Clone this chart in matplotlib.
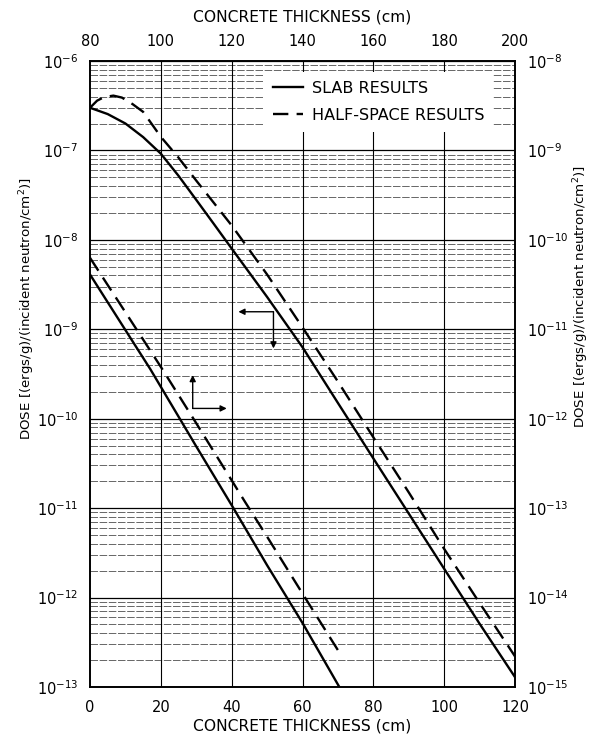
import numpy as np
import matplotlib
matplotlib.use("Agg")
import matplotlib.pyplot as plt
from matplotlib.ticker import FixedLocator, NullLocator, FixedFormatter

# ---- data (bottom x / left y): upper pair of curves ----
slab_x = [0, 5, 10, 15, 20, 25, 30, 35, 40, 50, 60, 70, 80, 90, 100, 110, 120]
slab_dose = [3.0e-7, 2.55e-7, 2.0e-7, 1.41e-7, 9.2e-8, 5.2e-8, 2.8e-8, 1.5e-8,
             8.0e-9, 2.3e-9, 6.3e-10, 1.5e-10, 3.6e-11, 8.7e-12, 2.1e-12, 5.1e-13, 1.29e-13]
half_x = [0, 2, 4, 6.6, 9, 12, 15, 20, 25, 30, 40, 50, 60, 70, 80, 90, 100, 110, 120]
half_dose = [3.0e-7, 3.6e-7, 3.95e-7, 4.1e-7, 3.9e-7, 3.3e-7, 2.7e-7, 1.42e-7, 8.3e-8,
             4.6e-8, 1.45e-8, 4.1e-9, 1.05e-9, 2.6e-10, 6.2e-11, 1.5e-11, 3.5e-12, 8.7e-13, 2.2e-13]

# ---- data (top x / right y): lower pair of curves ----
slab2_x = [80, 90, 97, 110, 120.5, 130, 140, 150.4]
slab2_dose = [4.1e-11, 9.8e-12, 3.6e-12, 4.9e-13, 1.0e-13, 2.3e-14, 5.2e-15, 1.0e-15]
half2_x = [80, 90, 100, 110, 123.8, 130, 141.2, 151.1]
half2_dose = [6.3e-11, 1.55e-11, 3.8e-12, 8.9e-13, 1.17e-13, 4.8e-14, 9.3e-15, 2.2e-15]

bottom_ticks = [0, 20, 40, 60, 80, 100, 120]
top_ticks = [80, 100, 120, 140, 160, 180, 200]
left_exps = [-13, -12, -11, -10, -9, -8, -7, -6]
right_exps = [-15, -14, -13, -12, -11, -10, -9, -8]
labels = ["SLAB RESULTS", "HALF-SPACE RESULTS"]
xlabel = "CONCRETE THICKNESS (cm)"
ylabel = "DOSE [(ergs/g)/(incident neutron/cm$^2$)]"

plt.rcParams['font.family'] = ['DejaVu Sans']
TFS = 10.5   # tick labels
XFS = 11.2   # x axis titles
YFS = 9.6    # y axis titles
LFS = 11.5   # legend

fig = plt.figure(figsize=(5.93, 7.43), dpi=100)
pos = [90/593, 1-687/743, 425/593, 626/743]
ax = fig.add_axes(pos)
ax2 = fig.add_axes(pos)
ax2.patch.set_visible(False)

lw = 1.7
dash = (6.5, 3.5)

ax.set_yscale('log')
ax2.set_yscale('log')
ax.set_xlim(0, 120)
ax.set_ylim(1e-13, 1e-6)
ax2.set_xlim(80, 200)
ax2.set_ylim(1e-15, 1e-8)

# grid
for d in left_exps[:-1]:
    for m in range(2, 10):
        ax.axhline(m * 10.0**d, color='0.3', lw=0.6, ls=(0, (9, 2)), zorder=1)
for d in left_exps:
    ax.axhline(10.0**d, color='black', lw=0.9, zorder=1)
for t in bottom_ticks[1:-1]:
    ax.axvline(t, color='black', lw=0.8, zorder=1)

l1, = ax.plot(slab_x, slab_dose, color='black', lw=lw, zorder=3)
l2, = ax.plot(half_x, half_dose, color='black', lw=lw, dashes=dash, zorder=3)
ax2.plot(slab2_x, slab2_dose, color='black', lw=lw, zorder=3)
ax2.plot(half2_x, half2_dose, color='black', lw=lw, dashes=dash, zorder=3)

ax.xaxis.set_major_locator(FixedLocator(bottom_ticks))
ax.xaxis.set_minor_locator(NullLocator())
ax.yaxis.set_major_locator(FixedLocator([10.0**e for e in left_exps]))
ax.yaxis.set_major_formatter(FixedFormatter([r"$10^{%d}$" % e for e in left_exps]))
ax.yaxis.set_minor_locator(NullLocator())
ax2.xaxis.set_major_locator(FixedLocator(top_ticks))
ax2.xaxis.set_minor_locator(NullLocator())
ax2.yaxis.set_major_locator(FixedLocator([10.0**e for e in right_exps]))
ax2.yaxis.set_major_formatter(FixedFormatter([r"$10^{%d}$" % e for e in right_exps]))
ax2.yaxis.set_minor_locator(NullLocator())
ax2.xaxis.tick_top()
ax2.xaxis.set_label_position('top')
ax2.yaxis.tick_right()
ax2.yaxis.set_label_position('right')

for a in (ax, ax2):
    a.tick_params(which='both', direction='in', length=0, labelsize=TFS)
    for s in a.spines.values():
        s.set_linewidth(1.2)
ax.tick_params(axis='x', pad=9)
ax2.tick_params(axis='x', pad=9)
ax.tick_params(axis='y', pad=8.5)
ax2.tick_params(axis='y', pad=8.5)

ax.set_xlabel(xlabel, fontsize=XFS, labelpad=3)
ax2.set_xlabel(xlabel, fontsize=XFS, labelpad=9)
ax.set_ylabel(ylabel, fontsize=YFS)
ax2.set_ylabel(ylabel, fontsize=YFS, rotation=90)
ax.yaxis.set_label_coords(-0.125, 0.605)
ax2.yaxis.set_label_coords(1.132, 0.623)

# arrows
ap = dict(arrowstyle='-|>', color='black', lw=1.0, mutation_scale=9, shrinkA=0, shrinkB=0)
ax.annotate('', xy=(41.9, 10**-8.804), xytext=(51.8, 10**-8.804), arrowprops=ap, zorder=4)
ax.annotate('', xy=(51.8, 10**-9.214), xytext=(51.8, 10**-8.804), arrowprops=ap, zorder=4)
ax.annotate('', xy=(29.0, 10**-9.512), xytext=(29.0, 10**-9.885), arrowprops=ap, zorder=4)
ax.annotate('', xy=(38.6, 10**-9.885), xytext=(29.0, 10**-9.885), arrowprops=ap, zorder=4)

leg = ax.legend([l1, l2], labels, loc='upper left', bbox_to_anchor=(0.41, 0.982),
                fontsize=LFS, frameon=True, handlelength=1.9, handletextpad=0.55,
                labelspacing=0.75, borderpad=0.55, borderaxespad=0, fancybox=False)
leg.get_frame().set_facecolor('white')
leg.get_frame().set_edgecolor('none')
leg.get_frame().set_alpha(1)
leg.set_zorder(5)

fig.savefig('out.png', dpi=100)
